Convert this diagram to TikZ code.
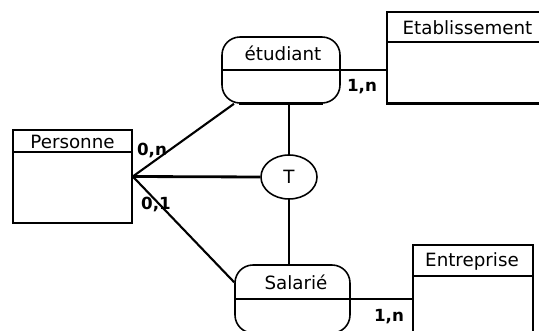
\documentclass[tikz,border=0pt]{standalone}
\usepackage{fontspec}
\setmainfont{DejaVu Sans}
\usetikzlibrary{shapes.geometric, calc}
\def\pxl{0.02cm}

\begin{document}
\begin{tikzpicture}[x=0.02cm, y=-0.02cm,
  entity/.style={draw, line width=0.9pt, inner sep=0pt},
  actor/.style={draw, line width=0.9pt, rounded corners=0.36cm, inner sep=0pt},
  title/.style={font=\fontsize{10.4}{12}\selectfont, inner sep=0pt},
  card/.style={font=\fontsize{9.5}{11}\selectfont\bfseries, inner sep=0pt},
  link/.style={line width=1.6pt}]
\useasboundingbox (0,0) rectangle (539,331);
\clip (0,0) rectangle (539,331);

\node[entity, minimum width=119*\pxl, minimum height=93*\pxl] (personne) at (72.5,176.5) {};
\draw[line width=0.9pt] ($(personne.north west)+(0,23)$) -- ($(personne.north east)+(0,23)$);
\node[title] (personneTxt) at (72.5,141.5) {Personne};

\node[entity, minimum width=163*\pxl, minimum height=91*\pxl] (etablissement) at (468.5,57.5) {};
\draw[line width=0.9pt] ($(etablissement.north west)+(0,31)$) -- ($(etablissement.north east)+(0,31)$);
\draw[link] (etablissement.south west) -- (etablissement.south east);
\node[title] (etablissementTxt) at (467.5,27.5) {Etablissement};

\node[entity, minimum width=120*\pxl, minimum height=93*\pxl] (entreprise) at (473,291.5) {};
\draw[line width=0.9pt] ($(entreprise.north west)+(0,32)$) -- ($(entreprise.north east)+(0,32)$);
\node[title] (entrepriseTxt) at (472,261) {Entreprise};

\node[actor, minimum width=118*\pxl, minimum height=66*\pxl] (etudiant) at (281,70) {};
\draw[line width=0.9pt] (etudiant.west) -- (etudiant.east);
\draw[link] ($(etudiant.south west)+(18,0)$) -- ($(etudiant.south east)+(-18,0)$);
\node[title] (etudiantTxt) at (283,53) {étudiant};

\node[actor, minimum width=115*\pxl, minimum height=68*\pxl] (salarie) at (292.5,299) {};
\draw[line width=0.9pt] (salarie.west) -- (salarie.east);
\node[title] (salarieTxt) at (296,282) {Salarié};

\node[ellipse, draw, line width=0.9pt, inner sep=0pt, minimum width=56*\pxl, minimum height=44*\pxl, font=\fontsize{10.4}{12}\selectfont] (T) at (289,177) {T};

\draw[link] (personne.east) -- (T.west);
\draw[line width=1.2pt] (personne.east) -- (etudiant);
\draw[line width=1.2pt] (personne.east) -- (salarie.164);
\draw[link] (T.north) -- (T.north |- etudiant.south);
\draw[link] (T.south) -- (T.south |- salarie.north);
\draw[link] (etudiant.east) -- (etudiant.east -| etablissement.west);
\draw[link] (salarie.east) -- (salarie.east -| entreprise.west);

\node[card] (cardA) at (152,150) {0,n};
\node[card] (cardB) at (156,204) {0,1};
\node[card] (cardC) at (362,87) {1,n};
\node[card] (cardD) at (389,317) {1,n};

\end{tikzpicture}
\end{document}
